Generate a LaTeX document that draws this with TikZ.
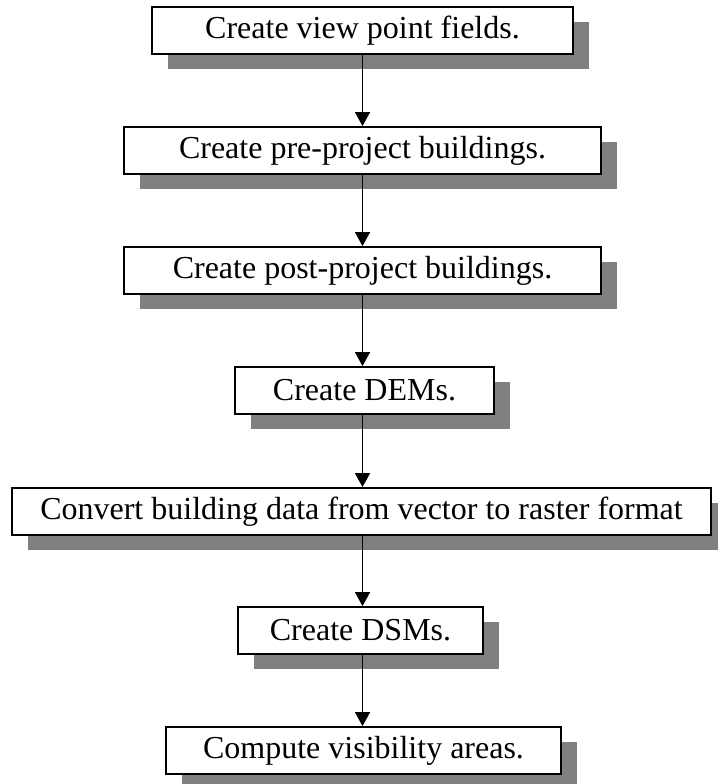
\documentclass[tikz,border=0pt]{standalone}
\usepackage{fontspec}
\setmainfont{Liberation Serif}
\usetikzlibrary{shadows,arrows.meta}

\begin{document}
\begin{tikzpicture}[x=0.75pt,y=-0.75pt,
        stepbox/.style={draw, line width=1.4pt, fill=white, inner sep=0pt,
          minimum height=35.25pt, font=\fontsize{24}{28}\selectfont,
          drop shadow={shadow xshift=12pt, shadow yshift=-11.25pt, fill=black!50, opacity=1}},
        flow/.style={line width=1.25pt, -{Triangle[length=10.5pt,width=11.25pt]}}]
        \useasboundingbox (0,0) rectangle (717,784);

        \node[stepbox, minimum width=315.75pt] (fields)  at (362.5, 30.5){Create view point fields.};
        \node[stepbox, minimum width=357.75pt] (pre)     at (362.5,150.5){Create pre-project buildings.};
        \node[stepbox, minimum width=357.75pt] (post)    at (362.5,270.5){Create post-project buildings.};
        \node[stepbox, minimum width=194.25pt] (dem)     at (364.5,390.5){Create DEMs.};
        \node[stepbox, minimum width=524.25pt] (convert) at (361.5,511.5){Convert building data from vector to raster format};
        \node[stepbox, minimum width=183.75pt] (dsm)     at (360.5,630.5){Create DSMs.};
        \node[stepbox, minimum width=296.25pt] (vis)     at (363.5,750.5){Compute visibility areas.};

        % arrows straight down the middle
        \foreach \from/\to in {fields/pre, pre/post, post/dem, dem/convert, convert/dsm, dsm/vis}
          \draw[flow] (\from.south -| 362.5,0) -- (\to.north -| 362.5,0);
\end{tikzpicture}
\end{document}
